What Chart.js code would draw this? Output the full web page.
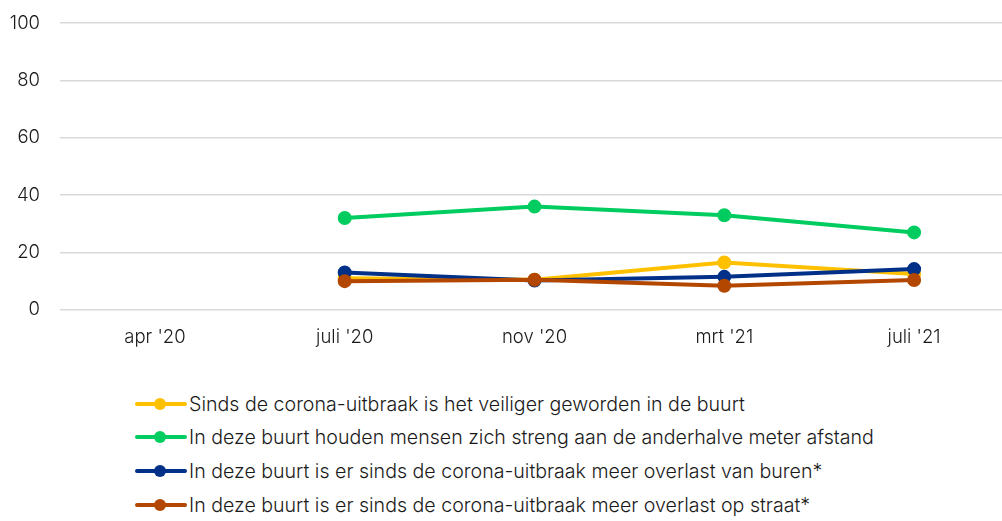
<!DOCTYPE html>
<html>
<head>
<meta charset="utf-8">
<script src="https://cdn.jsdelivr.net/npm/chart.js@4"></script>
<style>
  body { margin: 0; background: #fff; font-family: Inter, "Noto Sans", sans-serif; }
  #wrap { width: 1002px; height: 521px; position: relative; overflow: hidden; }
  #box { width: 1018px; height: 366px; margin-top: -8px; }
  #legend { position: absolute; left: 135px; top: 387px; margin: 0; padding: 0; list-style: none; }
  #legend li { height: 33.6px; display: flex; align-items: center; font-size: 19.6px; font-weight: 300; color: #1a1a1a; }
  #legend .sw { width: 52px; height: 4px; border-radius: 2px; position: relative; margin-right: 2px; flex: none; }
  #legend .sw i { position: absolute; left: 19px; top: -4px; width: 12px; height: 12px; border-radius: 50%; background: inherit; }
</style>
</head>
<body>
<div id="wrap">
  <div id="box"><canvas id="lineGraph"></canvas></div>
  <ul id="legend"></ul>
</div>
<script>
const categories = ["apr '20", "juli '20", "nov '20", "mrt '21", "juli '21"];
const seriesNames = [
  "Sinds de corona-uitbraak is het veiliger geworden in de buurt",
  "In deze buurt houden mensen zich streng aan de anderhalve meter afstand",
  "In deze buurt is er sinds de corona-uitbraak meer overlast van buren*",
  "In deze buurt is er sinds de corona-uitbraak meer overlast op straat*"
];
const veiliger = [null, 11, 10.5, 16.5, 12.5];
const afstand = [null, 32, 36, 33, 27];
const overlastBuren = [null, 13, 10.2, 11.5, 14.2];
const overlastStraat = [null, 10, 10.5, 8.4, 10.4];
const colors = ["#FFC000", "#00CC5F", "#003087", "#B34700"];

document.addEventListener("DOMContentLoaded", function () {
  const ctx = document.getElementById("lineGraph").getContext("2d");
  const values = [veiliger, afstand, overlastBuren, overlastStraat];
  const tickFont = { family: "Inter", size: 18.5, weight: 300 };

  new Chart(ctx, {
    type: "line",
    data: {
      labels: categories,
      datasets: values.map((v, i) => ({
        label: seriesNames[i],
        data: v,
        borderColor: colors[i],
        backgroundColor: colors[i],
        borderWidth: 4,
        pointRadius: 5,
        pointHoverRadius: 5,
        tension: 0,
        order: 4 - i,
      })),
    },
    options: {
      responsive: true,
      maintainAspectRatio: false,
      animation: false,
      layout: { padding: { top: 0, right: 0, left: 0, bottom: 0 } },
      plugins: { legend: { display: false }, tooltip: { enabled: false } },
      scales: {
        x: {
          offset: true,
          grid: { display: false },
          border: { display: false },
          ticks: { color: "#1a1a1a", font: tickFont, padding: 9 },
        },
        y: {
          min: 0,
          max: 100,
          ticks: { stepSize: 20, color: "#1a1a1a", font: tickFont, padding: 20 },
          grid: { color: "#d9d9d9", lineWidth: 1.5, drawTicks: false },
          border: { display: false },
          afterFit: (scale) => { scale.width = 60; },
        },
      },
    },
  });

  const ul = document.getElementById("legend");
  seriesNames.forEach((name, i) => {
    const li = document.createElement("li");
    li.innerHTML = '<span class="sw" style="background:' + colors[i] + '"><i></i></span>' + name;
    ul.appendChild(li);
  });
});
</script>
</body>
</html>
